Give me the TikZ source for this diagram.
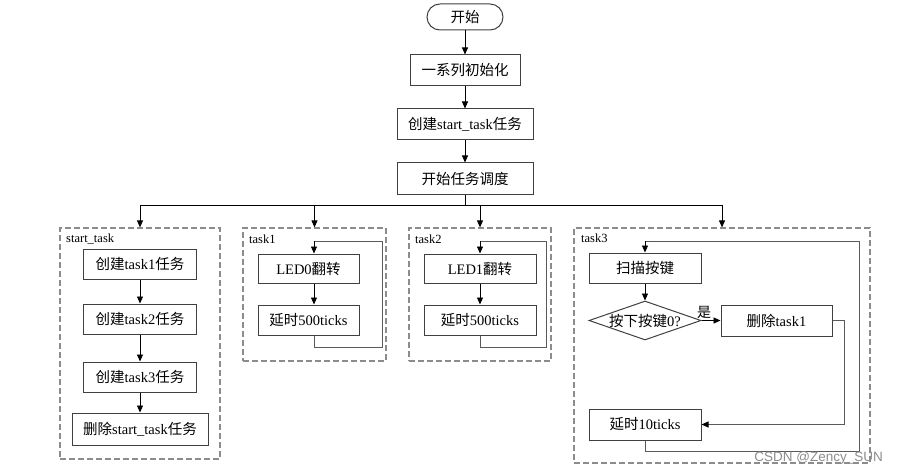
\documentclass[tikz,border=0pt]{standalone}
\usepackage{fontspec}
\setmainfont{Liberation Serif}
\newfontfamily\cjf{Noto Sans CJK SC}
\newfontfamily\wmf{Liberation Sans}
\usetikzlibrary{shapes.geometric,arrows.meta}
\newcommand{\zhs}[1]{{\cjf #1}}
\definecolor{boxc}{HTML}{404040}
\definecolor{grpc}{HTML}{8C8C8C}
\definecolor{loopc}{HTML}{5A5A5A}
\begin{document}
\begin{tikzpicture}[x=1pt,y=-1pt,
  box/.style={draw=boxc, line width=1pt, inner sep=0pt, minimum height=30pt, font=\fontsize{14.5}{16}\selectfont},
  grp/.style={draw=grpc, line width=1.2pt, dash pattern=on 6pt off 3pt, inner sep=0pt},
  glabel/.style={anchor=west, inner sep=0pt, font=\fontsize{12.5}{13}\selectfont},
  arr/.style={-{Triangle[length=7pt,width=6pt,color=black]}, line width=0.9pt},
  loopl/.style={draw=loopc, line width=1pt},
  loopa/.style={draw=loopc, line width=1pt, -{Triangle[length=7pt,width=6pt,color=black]}}]
\useasboundingbox (0,0) rectangle (897,476);

% main column
\node[box, rounded corners=13pt, minimum width=76pt, minimum height=26pt] (st) at (465,17) {\zhs{开始}};
\node[box, minimum width=110pt, minimum height=31pt] (init) at (465,70.5) {\zhs{一系列初始化}};
\node[box, minimum width=136pt, minimum height=31pt] (cst) at (465,124.5) {\zhs{创建}start\_task\zhs{任务}};
\node[box, minimum width=136pt, minimum height=31pt] (sch) at (465,178.5) {\zhs{开始任务调度}};
\draw[arr] (st) -- (init);
\draw[arr] (init) -- (cst);
\draw[arr] (cst) -- (sch);

% groups
\node[grp, minimum width=160pt, minimum height=231pt] (g0) at (140,343.5) {};
\node[grp, minimum width=143pt, minimum height=133pt] (g1) at (314.5,294.5) {};
\node[grp, minimum width=142pt, minimum height=133pt] (g2) at (480,294.5) {};
\node[grp, minimum width=296pt, minimum height=235pt] (g3) at (722,345.5) {};
\node[glabel] (l0) at (66,239) {start\_task};
\node[glabel] (l1) at (249,239) {task1};
\node[glabel] (l2) at (415,239) {task2};
\node[glabel] (l3) at (581,238) {task3};

% bus
\coordinate (bm) at (465,205);
\draw[line width=0.9pt] (sch.south) -- (bm);
\draw[line width=0.9pt] (g0.north |- bm) -- (g3.north |- bm);
\draw[arr] (g0.north |- bm) -- (g0.north);
\draw[arr] (g1.north |- bm) -- (g1.north);
\draw[arr] (g2.north |- bm) -- (g2.north);
\draw[arr] (g3.north |- bm) -- (g3.north);

% start_task
\node[box, minimum width=113pt] (t01) at (140,264) {\zhs{创建}task1\zhs{任务}};
\node[box, minimum width=113pt] (t02) at (140,319) {\zhs{创建}task2\zhs{任务}};
\node[box, minimum width=113pt] (t03) at (140,377) {\zhs{创建}task3\zhs{任务}};
\node[box, minimum width=136pt, minimum height=32pt] (t04) at (140,429) {\zhs{删除}start\_task\zhs{任务}};
\draw[arr] (t01) -- (t02);
\draw[arr] (t02) -- (t03);
\draw[arr] (t03) -- (t04);

% task1
\coordinate (c1) at (314,0);
\node[box, minimum width=101pt, minimum height=29pt] (t11) at (308.5,268.5) {LED0\zhs{翻转}};
\node[box, minimum width=101pt] (t12) at (308.5,320) {\zhs{延时}500ticks};
\coordinate (r1b) at (382,347);
\coordinate (r1t) at (382,241);
\draw[arr] (t11.south -| c1) -- (t12.north -| c1);
\draw[loopl] (t12.south -| c1) |- (r1b) -- (r1t) -- (c1 |- r1t);
\draw[arr] (c1 |- r1t) -- (t11.north -| c1);

% task2
\node[box, minimum width=112pt, minimum height=29pt] (t21) at (480,268.5) {LED1\zhs{翻转}};
\node[box, minimum width=112pt] (t22) at (480,320) {\zhs{延时}500ticks};
\coordinate (r2b) at (546,347);
\coordinate (r2t) at (546,241);
\draw[arr] (t21) -- (t22);
\draw[loopl] (t22.south) |- (r2b) -- (r2t) -- (t21.north |- r2t);
\draw[arr] (t21.north |- r2t) -- (t21.north);

% task3
\node[box, minimum width=112pt] (t31) at (645,268) {\zhs{扫描按键}};
\node[draw=boxc, line width=1pt, diamond, aspect=2.87, minimum width=112pt, minimum height=39pt, inner sep=0pt] (d) at (645,320.5) {};
\node[inner sep=0pt, font=\fontsize{14.5}{16}\selectfont] (dt) at (d.center) {\zhs{按下按键}0?};
\node[box, minimum width=111pt, minimum height=31pt] (t33) at (776.5,320.5) {\zhs{删除}task1};
\node[box, minimum width=112pt, minimum height=31pt] (t34) at (645,424.5) {\zhs{延时}10ticks};
\node[inner sep=0pt, font=\fontsize{14}{16}\selectfont] (yes) at (704,312) {\zhs{是}};
\draw[arr] (t31) -- (d);
\draw[arr] (d.east) -- (t33.west);
\coordinate (k3) at (844,424.5);
\draw[loopa] (t33.east) -| (k3) -- (t34.east);
\coordinate (r3b) at (859,451);
\coordinate (r3t) at (859,241);
\draw[loopl] (t34.south) |- (r3b) -- (r3t) -- (t31.north |- r3t);
\draw[arr] (t31.north |- r3t) -- (t31.north);

% watermark
\node[anchor=east, inner sep=0pt, text=black!45, font=\wmf\fontsize{13.5}{15}\selectfont] (wm) at (883,458) {CSDN @Zency\_SUN};
\end{tikzpicture}
\end{document}
